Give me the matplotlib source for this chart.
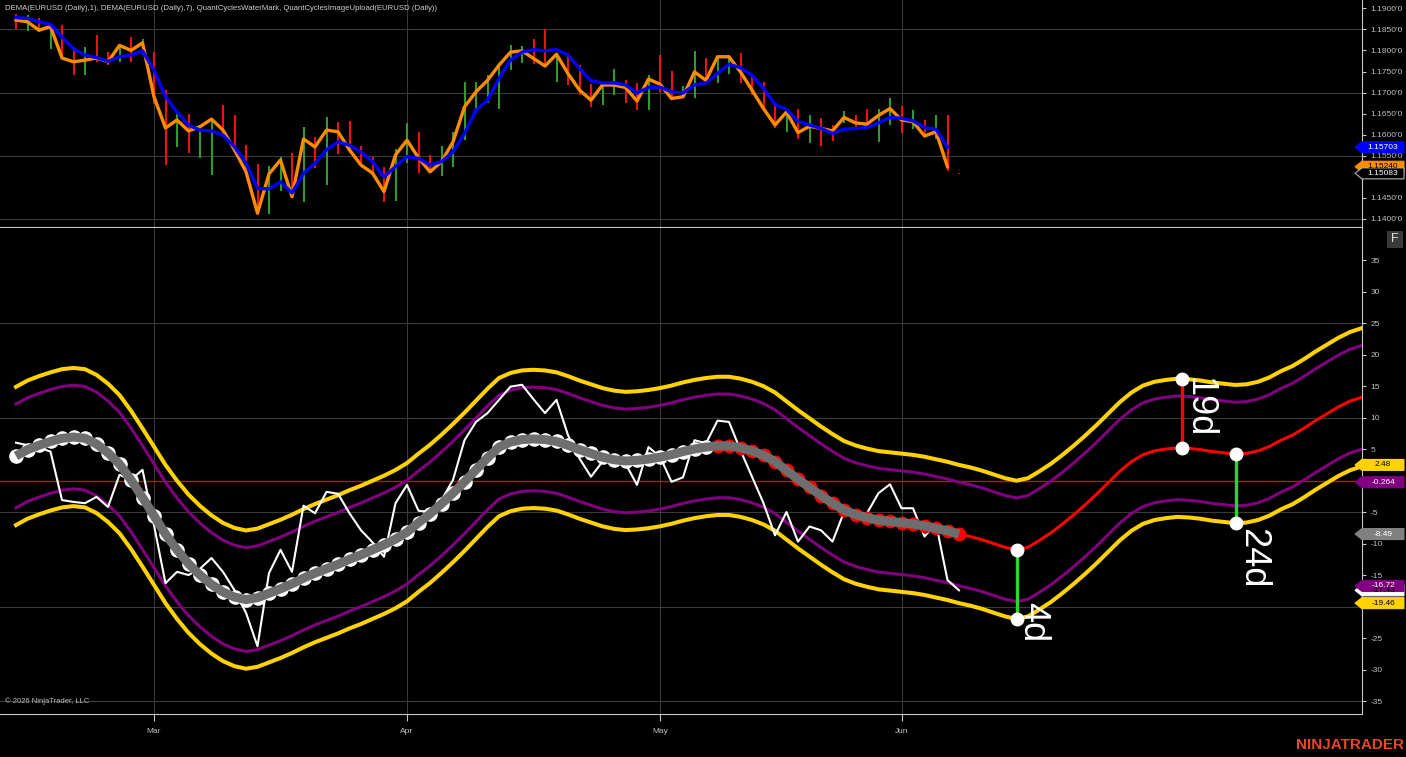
import numpy as np
import matplotlib
matplotlib.use("Agg")
import matplotlib.pyplot as plt
from matplotlib.patches import Polygon, Rectangle
from matplotlib.transforms import IdentityTransform

plt.rcParams['font.family'] = ['Liberation Sans', 'DejaVu Sans']
plt.rcParams['axes.unicode_minus'] = False

# bar numbers count trading days from 2 Mar 2026
first_bar = -12
month_labels = ['Mar', 'Apr', 'May', 'Jun']
month_bars = [0, 22, 44, 65]

# EURUSD daily bars, -12 .. 70
bar_high = [1.1887, 1.1883, 1.1878, 1.1864, 1.1860, 1.1808, 1.1808, 1.1836, 1.1796, 1.1816, 1.1831, 1.1828,
            1.1796, 1.1706, 1.1650, 1.1649, 1.1623, 1.1640, 1.1670, 1.1646, 1.1575, 1.1530,
            1.1526, 1.1548, 1.1556, 1.1619, 1.1595, 1.1641, 1.1631, 1.1633, 1.1573, 1.1548,
            1.1524, 1.1565, 1.1628, 1.1607, 1.1552, 1.1573, 1.1607, 1.1725, 1.1725, 1.1741,
            1.1768, 1.1812, 1.1810, 1.1826, 1.1852, 1.1793, 1.1793, 1.1765, 1.1720, 1.1718,
            1.1757, 1.1729, 1.1723, 1.1741, 1.1789, 1.1751, 1.1715, 1.1799, 1.1781, 1.1785,
            1.1789, 1.1793, 1.1741, 1.1725, 1.1670, 1.1656, 1.1662, 1.1646, 1.1639, 1.1623,
            1.1657, 1.1646, 1.1662, 1.1662, 1.1686, 1.1668, 1.1658, 1.1635, 1.1646, 1.1646,
            1.1509]
bar_low = [1.1852, 1.1846, 1.1844, 1.1804, 1.1781, 1.1741, 1.1741, 1.1773, 1.1765, 1.1773, 1.1773, 1.1789,
           1.1674, 1.1528, 1.1571, 1.1556, 1.1544, 1.1504, 1.1595, 1.1560, 1.1508, 1.1409,
           1.1413, 1.1467, 1.1449, 1.1441, 1.1520, 1.1481, 1.1554, 1.1556, 1.1528, 1.1505,
           1.1441, 1.1443, 1.1532, 1.1508, 1.1510, 1.1502, 1.1524, 1.1587, 1.1658, 1.1676,
           1.1662, 1.1753, 1.1770, 1.1767, 1.1760, 1.1725, 1.1718, 1.1694, 1.1666, 1.1670,
           1.1694, 1.1676, 1.1658, 1.1658, 1.1702, 1.1682, 1.1686, 1.1686, 1.1725, 1.1722,
           1.1745, 1.1722, 1.1694, 1.1660, 1.1615, 1.1607, 1.1591, 1.1581, 1.1573, 1.1586,
           1.1627, 1.1615, 1.1623, 1.1583, 1.1623, 1.1603, 1.1613, 1.1595, 1.1591, 1.1514,
           1.1507]
bar_dir = ("rgrgrrgrrg" "rgrrgrggrr" "rrggrgrgrr" "rrrggrrggg" "g"
           "ggggrrgrrr" "ggrrgrrggr" "ggrrrrgrgr" "rgrrggrgrg" "rr")

# DEMA(1) and DEMA(7), -12 .. 69
dema1 = [1.1872, 1.1868, 1.1848, 1.1857, 1.1782, 1.1773, 1.1777, 1.1782, 1.1773, 1.1812, 1.1800, 1.1818,
         1.1690, 1.1616, 1.1635, 1.1609, 1.1619, 1.1637, 1.1611, 1.1564, 1.1512, 1.1414,
         1.1507, 1.1540, 1.1453, 1.1590, 1.1571, 1.1611, 1.1607, 1.1564, 1.1528, 1.1509,
         1.1465, 1.1552, 1.1587, 1.1545, 1.1512, 1.1536, 1.1583, 1.1666, 1.1702, 1.1729,
         1.1765, 1.1796, 1.1799, 1.1781, 1.1763, 1.1791, 1.1745, 1.1706, 1.1682, 1.1718,
         1.1718, 1.1712, 1.1680, 1.1732, 1.1720, 1.1686, 1.1690, 1.1749, 1.1729, 1.1785,
         1.1785, 1.1749, 1.1706, 1.1662, 1.1623, 1.1654, 1.1605, 1.1620, 1.1615, 1.1609,
         1.1641, 1.1628, 1.1625, 1.1646, 1.1662, 1.1635, 1.1631, 1.1597, 1.1607, 1.1524]
dema7 = [1.1878, 1.1876, 1.1868, 1.1862, 1.1832, 1.1804, 1.1789, 1.1783, 1.1774, 1.1785, 1.1789, 1.1799,
         1.1753, 1.1690, 1.1654, 1.1623, 1.1611, 1.1609, 1.1599, 1.1571, 1.1532, 1.1473,
         1.1471, 1.1488, 1.1462, 1.1508, 1.1532, 1.1564, 1.1583, 1.1575, 1.1559, 1.1536,
         1.1500, 1.1524, 1.1548, 1.1544, 1.1528, 1.1536, 1.1559, 1.1603, 1.1658, 1.1682,
         1.1733, 1.1777, 1.1796, 1.1802, 1.1799, 1.1802, 1.1789, 1.1757, 1.1728, 1.1723,
         1.1723, 1.1718, 1.1699, 1.1712, 1.1713, 1.1702, 1.1699, 1.1718, 1.1722, 1.1745,
         1.1767, 1.1759, 1.1741, 1.1710, 1.1672, 1.1660, 1.1632, 1.1623, 1.1615, 1.1603,
         1.1613, 1.1615, 1.1617, 1.1628, 1.1641, 1.1639, 1.1633, 1.1617, 1.1613, 1.15703]
last_price = 1.15083

# cycle panel, -12 .. 70
cycle_center = [3.9, 4.9, 5.6, 6.2, 6.7, 6.9, 6.7, 5.8, 4.4, 2.6, 0.1, -2.7,
                -5.6, -8.5, -11.0, -13.2, -15.0, -16.5, -17.7, -18.5, -18.9, -18.6,
                -17.9, -17.2, -16.4, -15.5, -14.7, -14.0, -13.3, -12.5, -11.8, -11.0,
                -10.2, -9.3, -8.2, -6.7, -5.3, -3.7, -2.0, -0.2, 1.7, 3.6,
                5.3, 6.1, 6.5, 6.6, 6.5, 6.2, 5.6, 4.9, 4.3, 3.7,
                3.3, 3.1, 3.2, 3.4, 3.7, 4.1, 4.6, 5.0, 5.3, 5.5,
                5.5, 5.2, 4.7, 4.0, 3.0, 1.6, 0.2, -1.1, -2.4, -3.6,
                -4.7, -5.4, -5.9, -6.3, -6.5, -6.7, -6.9, -7.2, -7.6, -8.0, -8.494]
cycle_raw = [6.0, 5.6, 5.2, 4.6, -3.1, -3.4, -3.6, -2.6, -4.2, 0.9, 0.1, 1.7,
             -7.1, -16.3, -14.5, -15.0, -14.0, -12.3, -14.5, -17.4, -21.0, -26.3,
             -14.7, -11.0, -14.5, -4.0, -5.2, -1.8, -2.1, -5.2, -7.9, -9.8,
             -12.1, -3.6, -0.7, -4.8, -5.0, -3.1, 0.1, 6.4, 9.3, 10.7,
             12.8, 14.9, 15.2, 12.9, 10.7, 12.8, 7.2, 3.5, 0.6, 3.0,
             3.3, 2.7, -0.7, 5.3, 3.8, -0.2, 0.5, 6.4, 5.9, 9.5,
             9.3, 4.8, 0.6, -3.6, -8.7, -5.0, -9.7, -7.3, -7.9, -9.7,
             -5.0, -5.1, -5.2, -2.0, -0.6, -4.4, -4.4, -8.9, -6.8, -15.8, -17.43]
# projected cycle, 70 .. 105
proj_start = 70
projection = [-8.494, -8.9, -9.4, -10.0, -10.6, -11.0, -10.6, -9.5, -8.3, -6.9,
              -5.4, -3.8, -2.1, -0.3, 1.5, 3.0, 4.1, 4.7, 5.0, 5.2,
              5.1, 4.9, 4.6, 4.4, 4.2, 4.3, 4.7, 5.4, 6.4, 7.2,
              8.3, 9.5, 10.6, 11.7, 12.6, 13.2]
band_outer = 10.97
band_inner = 8.23
red_from_bar = 49

turn_bars = [75, 89.4, 94.1]
turn_values = [-11.0, 5.2, 4.2]
turn_labels = ['4d', '19d', '24d']
turn_side = ['low', 'high', 'low']
label_shift_px = [(-1, 17), (-1, 2), (-1, -5)]

title = ('DEMA(EURUSD (Daily),1), DEMA(EURUSD (Daily),7), '
         'QuantCyclesWaterMark, QuantCyclesImageUpload(EURUSD (Daily))')

# ---- layout (pixels) ----
W, H = 1406, 757
AX_R = 1362
fig = plt.figure(figsize=(W / 100, H / 100), dpi=100, facecolor='black')
ax_p = fig.add_axes([0, (H - 227) / H, AX_R / W, 227 / H])
ax_c = fig.add_axes([0, (H - 714) / H, AX_R / W, (714 - 228) / H])

grid_c = '#3a3a3a'
axis_c = '#c8c8c8'
xlim = (-154 / 11.5, (AX_R - 154) / 11.5)

for ax in (ax_p, ax_c):
    ax.set_facecolor('black')
    ax.set_xlim(*xlim)
    for s in ('top', 'left'):
        ax.spines[s].set_visible(False)
    ax.spines['right'].set_color(axis_c)
    ax.spines['bottom'].set_color(axis_c)
    ax.yaxis.tick_right()
    ax.tick_params(axis='y', colors=axis_c, labelcolor='#c0c0c0', length=3, width=0.8,
                   labelsize=6, pad=3)
    for mb in month_bars:
        ax.axvline(mb, color=grid_c, lw=0.8, zorder=0)

# ---- price panel ----
ax_p.set_ylim(1.13810, 1.19197)
pticks = np.arange(1.14, 1.19001, 0.005)
ax_p.set_yticks(pticks)
ax_p.set_yticklabels([f"{t:.4f}'0" for t in pticks])
for g in (1.1850, 1.1700, 1.1550, 1.1400):
    ax_p.axhline(g, color=grid_c, lw=0.8, zorder=0)
ax_p.set_xticks([])

bars = np.arange(first_bar, first_bar + len(bar_high))
hi = np.array(bar_high)
lo = np.array(bar_low)
up = np.array([c == 'g' for c in bar_dir])
ax_p.vlines(bars[up], lo[up], hi[up], color='#2f9a2f', lw=1.5, zorder=2)
ax_p.vlines(bars[~up], lo[~up], hi[~up], color='#ee1111', lw=1.5, zorder=2)

dx = np.arange(first_bar, first_bar + len(dema1))
ax_p.plot(dx, dema1, color='#ff8c00', lw=2.4, zorder=3, solid_joinstyle='round')
ax_p.plot(dx, dema7, color='#0000ff', lw=2.4, zorder=4, solid_joinstyle='round')

# ---- cycle panel ----
ax_c.set_ylim(-37.06, 40.08)
cticks = np.arange(-35, 36, 5)
ax_c.set_yticks(cticks)
# the 0 label sits under the value tags
ax_c.set_yticklabels(['' if t == 0 else str(t) for t in cticks])
for g in (25, 10, -5, -20, -35):
    ax_c.axhline(g, color=grid_c, lw=0.8, zorder=0)
ax_c.axhline(0, color='#c01414', lw=1.0, zorder=1)
ax_c.set_xticks(month_bars)
ax_c.set_xticklabels(month_labels)
ax_c.tick_params(axis='x', colors=axis_c, labelcolor='#c0c0c0', length=5, width=0.8,
                 labelsize=6, pad=5)

center = np.array(cycle_center)
cx = np.arange(first_bar, first_bar + len(center))
proj = np.array(projection)
px_ = np.arange(proj_start, proj_start + len(proj))
band_x = np.concatenate([cx, px_[1:]])
band_mid = np.concatenate([center, proj[1:]])

for off, col, lw in ((band_outer, '#ffd200', 2.9), (band_inner, '#800080', 2.2)):
    ax_c.plot(band_x, band_mid + off, color=col, lw=lw, zorder=2)
    ax_c.plot(band_x, band_mid - off, color=col, lw=lw, zorder=2)

ax_c.plot(px_, proj, color='#ff0000', lw=2.2, zorder=3)
ax_c.plot(cx, cycle_raw, color='white', lw=1.5, zorder=3)

white_pts = cx < red_from_bar
ax_c.plot(cx[white_pts], center[white_pts], 'o', ms=10.5, color='white', mec='none', zorder=4)
ax_c.plot(cx[~white_pts], center[~white_pts], 'o', ms=10, color='#ff0000', mec='none', zorder=4)
ax_c.plot(cx, center, color='#6e6e6e', lw=6.5, zorder=5, solid_capstyle='butt')

for xb, val, lab, side, (sx, sy) in zip(turn_bars, turn_values, turn_labels, turn_side, label_shift_px):
    end = val + band_outer if side == 'high' else val - band_outer
    seg_col = '#ff0000' if side == 'high' else '#22dd22'
    ax_c.plot([xb, xb], [val, end], color=seg_col, lw=2.4, zorder=6)
    ax_c.plot([xb, xb], [val, end], 'o', ms=10, color='white', mec='none', zorder=7)
    ax_c.annotate(lab, xy=(xb, end), xytext=(sx * 0.72, sy * 0.72), textcoords='offset points',
                  rotation=-90, ha='left', va='top', fontsize=26, color='white', zorder=8)

# ---- value tags on the price scale ----
ident = IdentityTransform()


def tag(ax, value, text, face, tcol, edge=None):
    y = ax.transData.transform((0, value))[1]
    h = 5.5
    pts = [(1355, y), (AX_R, y + h), (1404, y + h), (1404, y - h), (AX_R, y - h)]
    fig.add_artist(Polygon(pts, closed=True, transform=ident, facecolor=face,
                           edgecolor=edge or face, lw=0.8))
    fig.text(1383, y, text, transform=ident, ha='center', va='center', fontsize=6, color=tcol)


tag(ax_p, dema7[-1], f'{dema7[-1]:.5f}', '#0000ff', 'white')
tag(ax_p, dema1[-1], f'{dema1[-1]:.5f}', '#ff8c00', 'black')
tag(ax_p, last_price, f'{last_price:.5f}', 'black', 'white', edge='#b0b0b0')


def fmt(v):
    return f'{v:.3f}' if abs(v) < 1 else f'{v:.2f}'


c_last = center[-1]
tag(ax_c, c_last + band_outer, fmt(c_last + band_outer), '#ffd200', 'black')
tag(ax_c, c_last + band_inner, fmt(c_last + band_inner), '#800080', 'white')
tag(ax_c, c_last, fmt(c_last), '#808080', 'white')
tag(ax_c, cycle_raw[-1], fmt(cycle_raw[-1]), 'white', 'black')
tag(ax_c, c_last - band_inner, fmt(c_last - band_inner), '#800080', 'white')
tag(ax_c, c_last - band_outer, fmt(c_last - band_outer), '#ffd200', 'black')

# ---- texts ----
fig.text(5, H - 9, title, transform=ident, va='center', ha='left', fontsize=5.6, color='#d0d0d0')
fig.text(5, H - 701, '\u00a9 2026 NinjaTrader, LLC', transform=ident, va='center', ha='left',
         fontsize=5.5, color='#bdbdbd')
fig.add_artist(Rectangle((1387, H - 248), 16, 17, transform=ident, facecolor='#3a3a3a', edgecolor='none'))
fig.text(1395, H - 239.5, 'F', transform=ident, ha='center', va='center', fontsize=9, color='#dddddd')
fig.text(1404, H - 745, 'NINJATRADER', transform=ident, ha='right', va='center', fontsize=11,
         fontweight='bold', color='#e5482a')

fig.savefig('out.png', dpi=100, facecolor='black')
